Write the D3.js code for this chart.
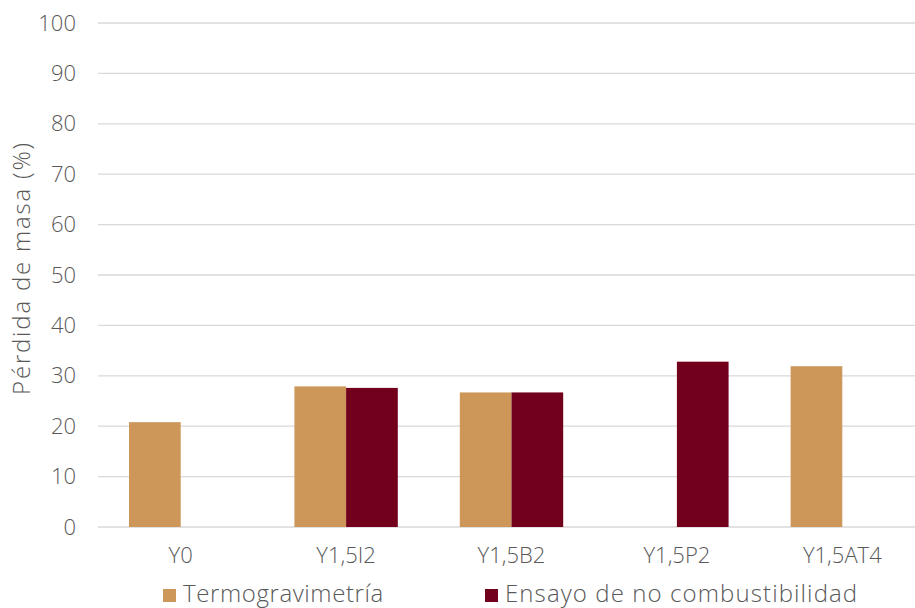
<!DOCTYPE html>
<html>
<head>
<meta charset="utf-8">
<script src="https://cdn.jsdelivr.net/npm/d3@7"></script>
<style>
  html, body { margin: 0; padding: 0; background: #fff; }
  svg { display: block; }
  text { font-family: "Open Sans", "DejaVu Sans", sans-serif; font-weight: 300; fill: #595959; }
</style>
</head>
<body>
<div id="chart"></div>
<script>
// Mass loss by sample, two test methods
const categories = ["Y0", "Y1,5I2", "Y1,5B2", "Y1,5P2", "Y1,5AT4"];
const seriesNames = ["Termogravimetría", "Ensayo de no combustibilidad"];
const termogravimetria = [20.8, 27.9, 26.7, null, 31.9];
const noCombustibilidad = [null, 27.6, 26.7, 32.8, null];
const yTicks = [0, 10, 20, 30, 40, 50, 60, 70, 80, 90, 100];
const colors = ["#CC9759", "#72001C"];
const yTitle = "Pérdida de masa (%)";

const W = 915, H = 608;
const margin = { top: 23, left: 98, bottom: 81, right: -10 };
const innerW = W - margin.left - margin.right;
const innerH = H - margin.top - margin.bottom;

const svg = d3.select("#chart").append("svg")
  .attr("width", W).attr("height", H);

const g = svg.append("g").attr("transform", `translate(${margin.left},${margin.top})`);

const x0 = d3.scaleBand().domain(categories).range([0, innerW]).paddingInner(0.375).paddingOuter(0.1875);
const x1 = d3.scaleBand().domain([0, 1]).range([0, x0.bandwidth()]);
const y = d3.scaleLinear().domain([0, 100]).range([innerH, 0]);

// horizontal gridlines
g.append("g").selectAll("line").data(yTicks).join("line")
  .attr("x1", 0).attr("x2", innerW)
  .attr("y1", d => y(d)).attr("y2", d => y(d))
  .attr("stroke", "#d9d9d9").attr("stroke-width", 1.3);

const fontFamily = "'Open Sans', 'DejaVu Sans', sans-serif";

// y axis labels
const yAxis = g.append("g").attr("transform", "translate(-22,0)")
  .call(d3.axisLeft(y).tickValues(yTicks).tickSize(0).tickPadding(0));
yAxis.select(".domain").remove();
yAxis.selectAll("text").style("font-size", "22px").style("font-weight", 300)
  .attr("fill", "#595959").attr("font-family", fontFamily);

// x axis labels
const xAxis = g.append("g").attr("transform", `translate(0,${innerH})`)
  .call(d3.axisBottom(x0).tickSize(0).tickPadding(20));
xAxis.select(".domain").remove();
xAxis.selectAll("text").style("font-size", "22px").style("font-weight", 300)
  .attr("fill", "#595959").attr("font-family", fontFamily);

// bars
const rows = categories.map((c, i) => ({ c, vals: [termogravimetria[i], noCombustibilidad[i]] }));
const grp = g.append("g").selectAll("g").data(rows).join("g")
  .attr("transform", d => `translate(${x0(d.c)},0)`);
grp.selectAll("rect")
  .data(d => d.vals.map((v, k) => ({ v, k })).filter(e => e.v != null))
  .join("rect")
  .attr("x", e => x1(e.k))
  .attr("width", x1.bandwidth())
  .attr("y", e => y(e.v))
  .attr("height", e => innerH - y(e.v))
  .attr("fill", e => colors[e.k]);

// y axis title
svg.append("text")
  .attr("transform", "translate(30,268) rotate(-90)")
  .attr("text-anchor", "middle")
  .style("font-size", "24px")
  .style("letter-spacing", "1.8px")
  .text(yTitle);

// legend
const legendItems = [{ x: 163, i: 0 }, { x: 485, i: 1 }];
const lg = svg.append("g").selectAll("g").data(legendItems).join("g")
  .attr("transform", d => `translate(${d.x},0)`);
lg.append("rect").attr("x", 0).attr("y", 589).attr("width", 13).attr("height", 13)
  .attr("fill", d => colors[d.i]);
lg.append("text").attr("x", 20).attr("y", 602)
  .style("font-size", "24px")
  .style("letter-spacing", d => d.i === 0 ? "0.6px" : "1.1px")
  .text(d => seriesNames[d.i]);
</script>
</body>
</html>
